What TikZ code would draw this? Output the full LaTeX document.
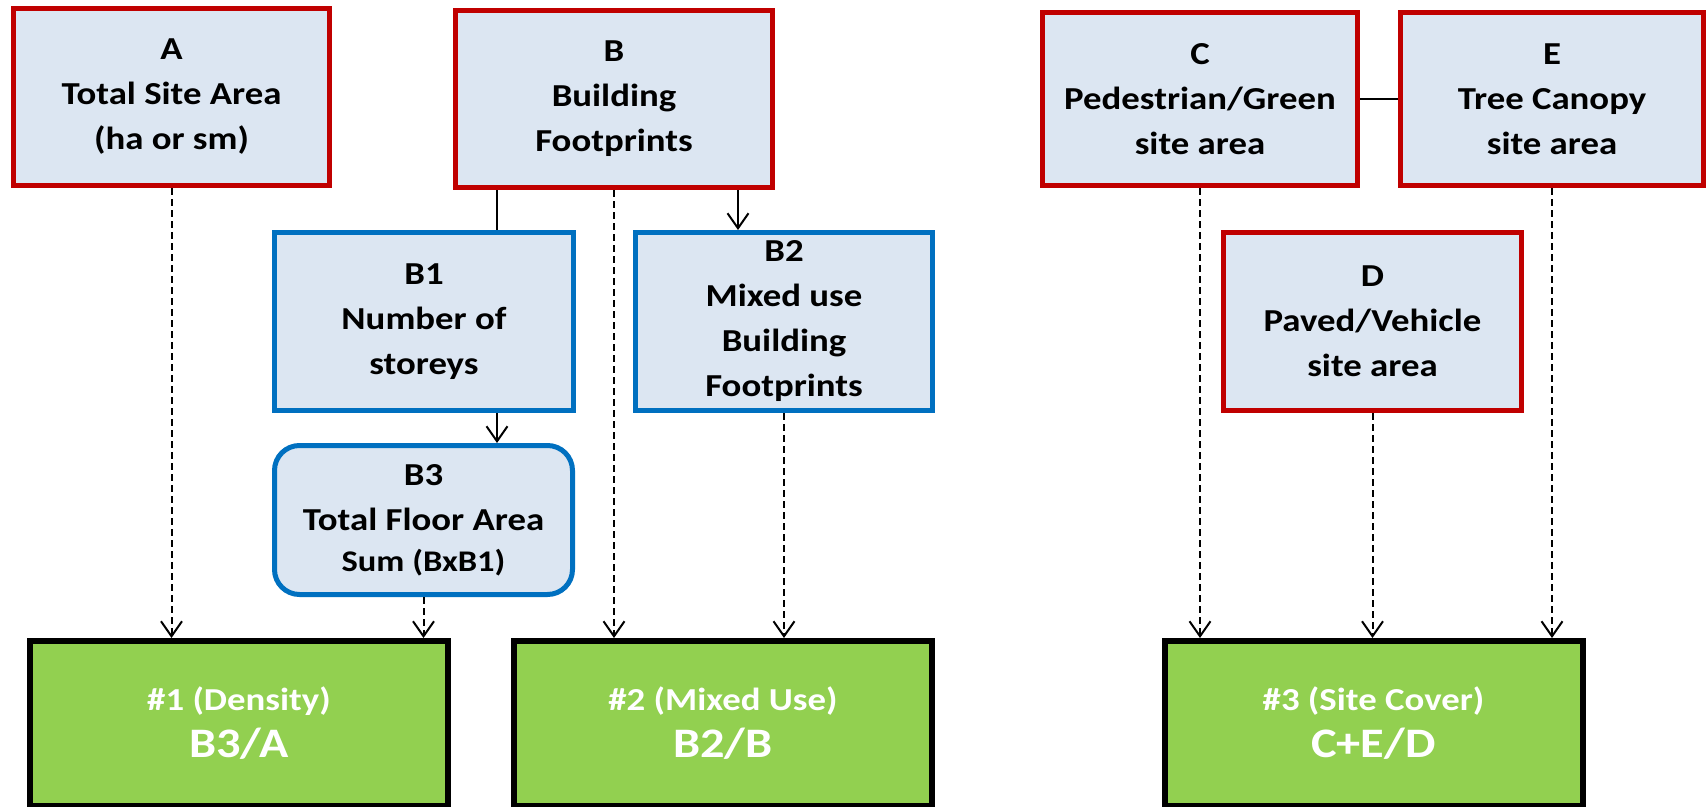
\documentclass[tikz,border=0pt]{standalone}
\usepackage{fontspec}
\setmainfont{Carlito}[FakeStretch=1.15]
\usetikzlibrary{arrows.meta,positioning,calc}
\definecolor{boxred}{HTML}{C00000}
\definecolor{boxblue}{HTML}{0070C0}
\definecolor{boxfill}{HTML}{DCE6F2}
\definecolor{resgreen}{HTML}{92D050}
\newcommand{\bigtxt}{\fontsize{32}{45}\selectfont\bfseries}

\begin{document}
\begin{tikzpicture}[x=1pt,y=-1pt,
	inbox/.style={draw=boxred,line width=5pt,fill=boxfill,inner sep=0pt,align=center,font=\bigtxt},
	subbox/.style={inbox,draw=boxblue},
	resbox/.style={draw=black,line width=6pt,fill=resgreen,text=white,inner sep=0pt,align=center,minimum width=418pt,minimum height=165pt,font=\bigtxt},
	conn/.style={line width=2pt},
	flow/.style={conn,-{Straight Barb[length=15pt,width=21pt,line width=2pt]}},
	dflow/.style={flow,dash pattern=on 7pt off 4pt}]
	\useasboundingbox (0,0) rectangle (1708,806);
	\node[inbox,minimum width=316pt,minimum height=177pt] (A) at (171.5,97) {A\\Total Site Area\\(ha or sm)};
	\node[inbox,minimum width=317pt,minimum height=177pt] (B) at (614,99) {B\\Building\\Footprints};
	\node[subbox,minimum width=299pt,minimum height=178pt] (B1) at (424,321.5) {B1\\Number of\\storeys};
	\node[subbox,minimum width=297pt,minimum height=178pt] (B2) at (784,321.5) {B2\\Mixed use\\Building\\Footprints};
	\node[subbox,rounded corners=25pt,minimum width=298pt,minimum height=149pt] (B3) at (423.5,520) {B3\\Total Floor Area\\[-4pt]{\fontsize{30}{41}\selectfont Sum (BxB1)}};
	\node[inbox,minimum width=315pt,minimum height=173pt] (C) at (1200,99) {C\\Pedestrian/Green\\site area};
	\node[inbox,minimum width=303pt,minimum height=173pt] (E) at (1552,99) {E\\Tree Canopy\\site area};
	\node[inbox,minimum width=298pt,minimum height=178pt] (D) at (1372.5,321.5) {D\\Paved/Vehicle\\site area};
	\node[resbox] (G1) at (239,723.5) {\#1 (Density)\\[2pt]{\fontsize{42}{54}\selectfont B3/A}};
	\node[resbox] (G2) at (723,723.5) {\#2 (Mixed Use)\\[2pt]{\fontsize{42}{54}\selectfont B2/B}};
	\node[resbox] (G3) at (1373.5,723.5) {\#3 (Site Cover)\\[2pt]{\fontsize{42}{54}\selectfont C+E/D}};
	\coordinate (Bl) at ([xshift=44pt]B.south west);
	\coordinate (Br) at ([xshift=-37pt]B.south east);
	\draw[conn] (Bl) -- (Bl |- B1.north);
	\draw[flow] (B1.south -| Bl) -- (B3.north -| Bl);
	\draw[flow] (Br) -- (Br |- B2.north);
	\draw[conn] (C.east) -- (E.west);
	\draw[dflow] (A.south) -- (A.south |- G1.north);
	\draw[dflow] (B3.south) -- (B3.south |- G1.north);
	\draw[dflow] (B.south) -- (B.south |- G2.north);
	\draw[dflow] (B2.south) -- (B2.south |- G2.north);
	\draw[dflow] (C.south) -- (C.south |- G3.north);
	\draw[dflow] (D.south) -- (D.south |- G3.north);
	\draw[dflow] (E.south) -- (E.south |- G3.north);
\end{tikzpicture}
\end{document}
